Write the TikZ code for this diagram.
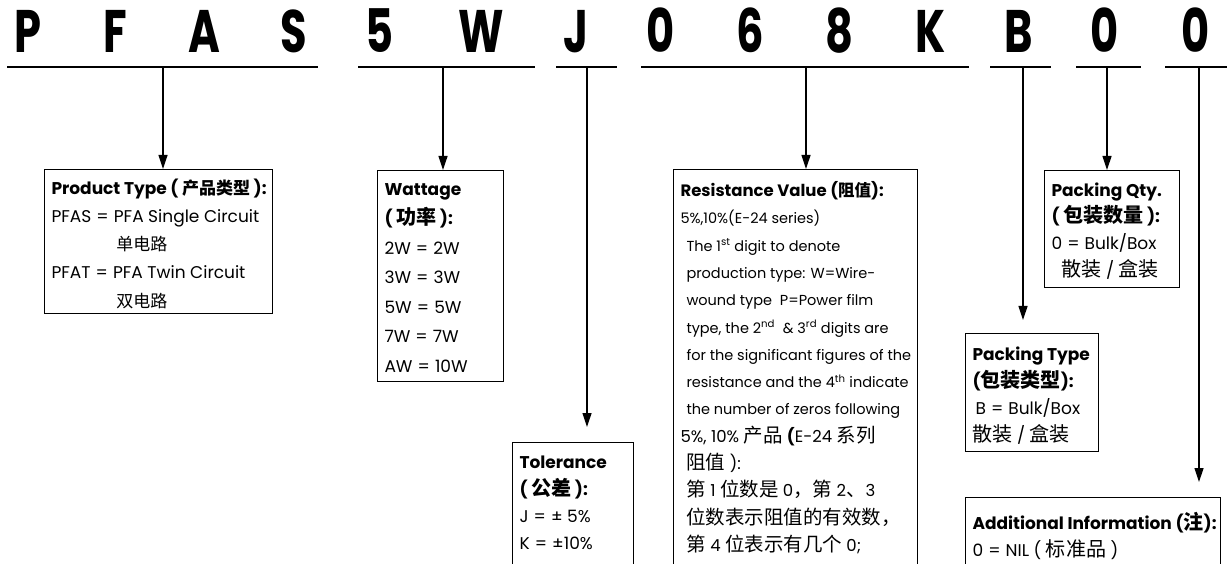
\documentclass[tikz,border=0pt]{standalone}
\usepackage{fontspec}
\setmainfont{Poppins}
\newfontfamily\cjkfont{Noto Sans CJK SC}
\newfontfamily\cjkbig{Noto Sans CJK SC}[Scale=1.18]
\newfontfamily\codefont{Poppins}[FakeStretch=0.72]
\usetikzlibrary{arrows.meta}
\newcommand\zh[1]{{\cjkfont #1}}
\newcommand\zhb[1]{{\cjkbig #1}}
\newcommand\eq{\hspace{0.3em}=\hspace{0.3em}}
% #1 top skip, #2 width, #3 height, #4 lines
\newcommand\boxbody[4][0pt]{\parbox[t][#3][t]{#2}{\raggedright\rightskip=-40pt plus 1fil\vspace*{#1}#4}}

\begin{document}
\begin{tikzpicture}[
  x=1pt, y=1pt,
  digit/.style={font=\codefont\bfseries\fontsize{60}{60}\selectfont, anchor=base, inner sep=0pt},
  rule/.style={line width=1.6pt},
  box/.style={draw, line width=1pt, anchor=north west, inner xsep=7pt, inner ysep=8pt, font=\fontsize{17}{28}\selectfont},
  small/.style={font=\fontsize{14.5}{27.3}\selectfont},
  arrow/.style={line width=1.2pt, -{Triangle[length=14pt,width=9pt]}}
]
\useasboundingbox (0,0) rectangle (1227,-564);

% part number
\foreach \ch/\xx [count=\i] in {P/28, F/115, A/204, S/294, 5/380, W/481, J/576, 0/661, 6/750, 8/839, K/931, B/1019, 0/1105, 0/1196}
  \node[digit] (c\i) at (\xx,-53) {\ch};
\foreach \a/\b in {7/318, 358/535, 556/617, 641/969, 990/1051, 1076/1141, 1165/1227}
  \draw[rule] (\a,-67) -- (\b,-67);

\coordinate (tType) at (163,-67);
\coordinate (tWatt) at (443,-67);
\coordinate (tTol)  at (587,-67);
\coordinate (tRes)  at (806,-67);
\coordinate (tPack) at (1023,-67);
\coordinate (tQty)  at (1107,-67);
\coordinate (tAdd)  at (1199,-67);

% boxes
\node[box] (type) at (44,-169) {\boxbody[1pt]{214pt}{128pt}{\baselineskip=28.3pt
  \textbf{Product Type ( \zh{产品类型} ):}\\
  PFAS\eq PFA Single Circuit\\
  \hspace*{65pt}\zh{单电路}\\
  PFAT\eq PFA Twin Circuit\\
  \hspace*{65pt}\zh{双电路}}};

\node[box] (watt) at (377,-170) {\boxbody[5pt]{112pt}{195pt}{\baselineskip=29.5pt
  \textbf{Wattage}\\
  \textbf{( \zhb{功率} ):}\\
  2W\eq 2W\\
  3W\eq 3W\\
  5W\eq 5W\\
  7W\eq 7W\\
  AW\eq 10W}};

\node[box] (tol) at (512,-442) {\boxbody[5pt]{107pt}{200pt}{\baselineskip=27.3pt
  \textbf{Tolerance}\\
  \textbf{( \zhb{公差} ):}\\
  J\eq ± 5\%\\
  K\eq ±10\%}};

\node[box, small] (res) at (673,-169) {\boxbody[4pt]{230pt}{450pt}{%
  \textbf{\fontsize{16.5}{27.3}\selectfont Resistance Value (\zh{阻值}):}\\
  5\%,10\%(E-24 series)\\
  \hspace*{6pt}The 1\textsuperscript{st} digit to denote\\
  \hspace*{6pt}production type: W=Wire-\\
  \hspace*{6pt}wound type\ \ P=Power film\\
  \hspace*{6pt}type, the 2\textsuperscript{nd}\ \ \& 3\textsuperscript{rd} digits are\\
  \hspace*{6pt}for the significant figures of the\\
  \hspace*{6pt}resistance and the 4\textsuperscript{th} indicate\\
  \hspace*{6pt}the number of zeros following\\
  {\fontsize{16.5}{27.3}\selectfont
  5\%, 10\% \zhb{产品} \textbf{(}E-24 \zhb{系列}\\
  \hspace*{6pt}\zhb{阻值} ):\\
  \hspace*{6pt}\zhb{第} 1 \zhb{位数是} 0\zhb{，第} 2\zhb{、}3\\
  \hspace*{6pt}\zhb{位数表示阻值的有效数，}\\
  \hspace*{6pt}\zhb{第} 4 \zhb{位表示有几个} 0;}}};

\node[box] (pack) at (965,-333) {\boxbody[5pt]{119pt}{102pt}{\baselineskip=27pt
  \textbf{Packing Type}\\
  \textbf{(\zhb{包装类型}):}\\
  \hspace*{3pt}B\eq Bulk/Box\\
  \zhb{散装} / \zhb{盒装}}};

\node[box] (qty) at (1044,-170) {\boxbody[4pt]{121pt}{101pt}{\baselineskip=26.7pt
  \textbf{Packing Qty.}\\
  \textbf{( \zhb{包装数量} ):}\\
  0\eq Bulk/Box\\
  \hspace*{10pt}\zhb{散装} / \zhb{盒装}}};

\node[box] (add) at (965,-497) {\boxbody[7pt]{241pt}{200pt}{\baselineskip=27pt
  \textbf{Additional Information (\zhb{注}):}\\
  0\eq NIL ( \zhb{标准品} )}};

% arrows
\draw[arrow] (tType) -- (tType |- type.north);
\draw[arrow] (tWatt) -- (tWatt |- watt.north);
\draw[arrow, shorten >=15pt] (tTol) -- (tTol |- tol.north);
\draw[arrow] (tRes) -- (tRes |- res.north);
\draw[arrow, shorten >=13pt] (tPack) -- (tPack |- pack.north);
\draw[arrow] (tQty) -- (tQty |- qty.north);
\draw[arrow, shorten >=15pt] (tAdd) -- (tAdd |- add.north);
\end{tikzpicture}
\end{document}
